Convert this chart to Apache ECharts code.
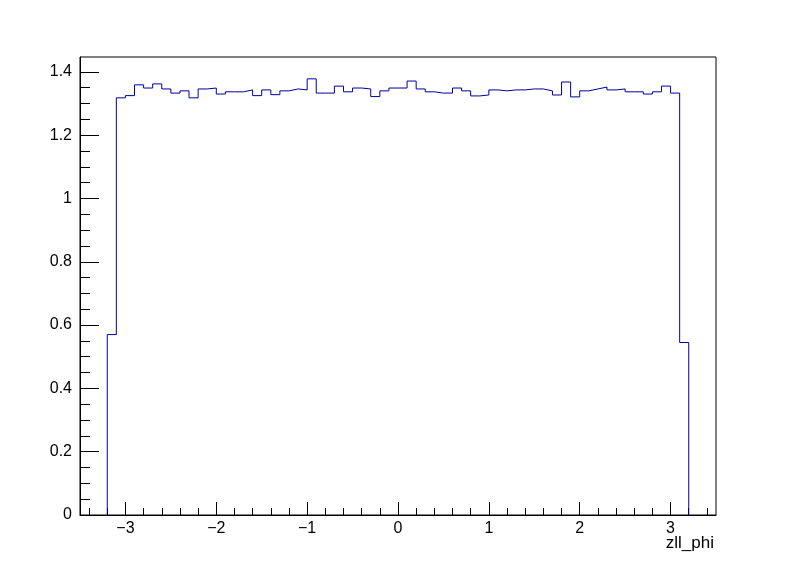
<!DOCTYPE html>
<html>
<head>
<meta charset="utf-8">
<style>
  html, body { margin: 0; padding: 0; background: #ffffff; }
  #chart { width: 796px; height: 572px; }
</style>
<script src="https://cdn.jsdelivr.net/npm/echarts@6/dist/echarts.min.js"></script>
</head>
<body>
<div id="chart"></div>
<script>
// ---- data ----
const axisTitle = "zll_phi";
const binLow = -3.2;          // lower edge of first filled bin
const binWidth = 0.1;
const binCounts = [
  0.570, 1.318, 1.325, 1.359, 1.349, 1.362, 1.346, 1.333, 1.340, 1.318,
  1.346, 1.349, 1.330, 1.337, 1.337, 1.343, 1.325, 1.343, 1.328, 1.340,
  1.346, 1.343, 1.378, 1.333, 1.333, 1.355, 1.337, 1.349, 1.346, 1.322,
  1.340, 1.349, 1.349, 1.371, 1.346, 1.337, 1.333, 1.333, 1.349, 1.340,
  1.324, 1.327, 1.343, 1.340, 1.343, 1.343, 1.346, 1.346, 1.340, 1.327,
  1.368, 1.321, 1.340, 1.346, 1.352, 1.343, 1.346, 1.337, 1.337, 1.330,
  1.337, 1.355, 1.333, 0.545
];
const xRange = [-3.5, 3.5];
const yRange = [0, 1.447];
const xMajorTicks = [-3, -2, -1, 0, 1, 2, 3];
const yMajorTicks = [0, 0.2, 0.4, 0.6, 0.8, 1, 1.2, 1.4];

// ---- build histogram outline (step line) ----
const stepData = [[binLow, 0]];
for (let i = 0; i < binCounts.length; i++) {
  stepData.push([binLow + i * binWidth, binCounts[i]]);
}
stepData.push([binLow + binCounts.length * binWidth, 0]);

// minor tick positions
const xMinorTicks = [];
for (let k = -17; k <= 17; k++) { if (k % 5 !== 0) xMinorTicks.push(k * 0.2); }
const yMinorTicks = [];
for (let k = 1; k <= 28; k++) { if (k % 4 !== 0) yMinorTicks.push(k * 0.05); }

const font = "'Liberation Sans', Arial, Helvetica, sans-serif";
const fmt = v => {
  let s = (Math.round(v * 1000) / 1000).toString();
  return s.replace('-', '\u2212');
};

const chart = echarts.init(document.getElementById('chart'), null, { renderer: 'canvas' });
chart.setOption({
  animation: false,
  backgroundColor: '#ffffff',
  grid: {
    left: 80, right: 80, top: 57, bottom: 57,
    show: true, borderColor: '#000000', borderWidth: 1, backgroundColor: 'transparent'
  },
  graphic: [
    {
      type: 'text', right: 82, top: 535,
      style: { text: axisTitle, font: "17px 'Liberation Sans', Arial, sans-serif", fill: '#000' }
    }
  ],
  xAxis: [
    {
      type: 'value', min: xRange[0], max: xRange[1],
      axisLine: { show: true, onZero: false, lineStyle: { color: '#000', width: 1 } },
      axisTick: { show: true, inside: true, length: 13, customValues: xMajorTicks, lineStyle: { color: '#000', width: 1 } },
      axisLabel: { show: true, customValues: xMajorTicks, formatter: fmt, fontFamily: font, fontSize: 16, color: '#000', margin: 6 },
      splitLine: { show: false }
    },
    {
      type: 'value', min: xRange[0], max: xRange[1], position: 'bottom',
      axisLine: { show: false, onZero: false },
      axisTick: { show: true, inside: true, length: 7, customValues: xMinorTicks, lineStyle: { color: '#000', width: 1 } },
      axisLabel: { show: false },
      splitLine: { show: false }
    }
  ],
  yAxis: [
    {
      type: 'value', min: yRange[0], max: yRange[1],
      axisLine: { show: true, onZero: false, lineStyle: { color: '#000', width: 1 } },
      axisTick: { show: true, inside: true, length: 19, customValues: yMajorTicks, lineStyle: { color: '#000', width: 1 } },
      axisLabel: { show: true, customValues: yMajorTicks, formatter: fmt, fontFamily: font, fontSize: 16, color: '#000', margin: 8 },
      splitLine: { show: false }
    },
    {
      type: 'value', min: yRange[0], max: yRange[1], position: 'left',
      axisLine: { show: false, onZero: false },
      axisTick: { show: true, inside: true, length: 10, customValues: yMinorTicks, lineStyle: { color: '#000', width: 1 } },
      axisLabel: { show: false },
      splitLine: { show: false }
    }
  ],
  series: [
    {
      type: 'line', xAxisIndex: 0, yAxisIndex: 0,
      data: stepData, step: 'end',
      showSymbol: false, symbol: 'none',
      lineStyle: { color: '#000099', width: 1 },
      z: 1
    }
  ]
});
</script>
</body>
</html>
